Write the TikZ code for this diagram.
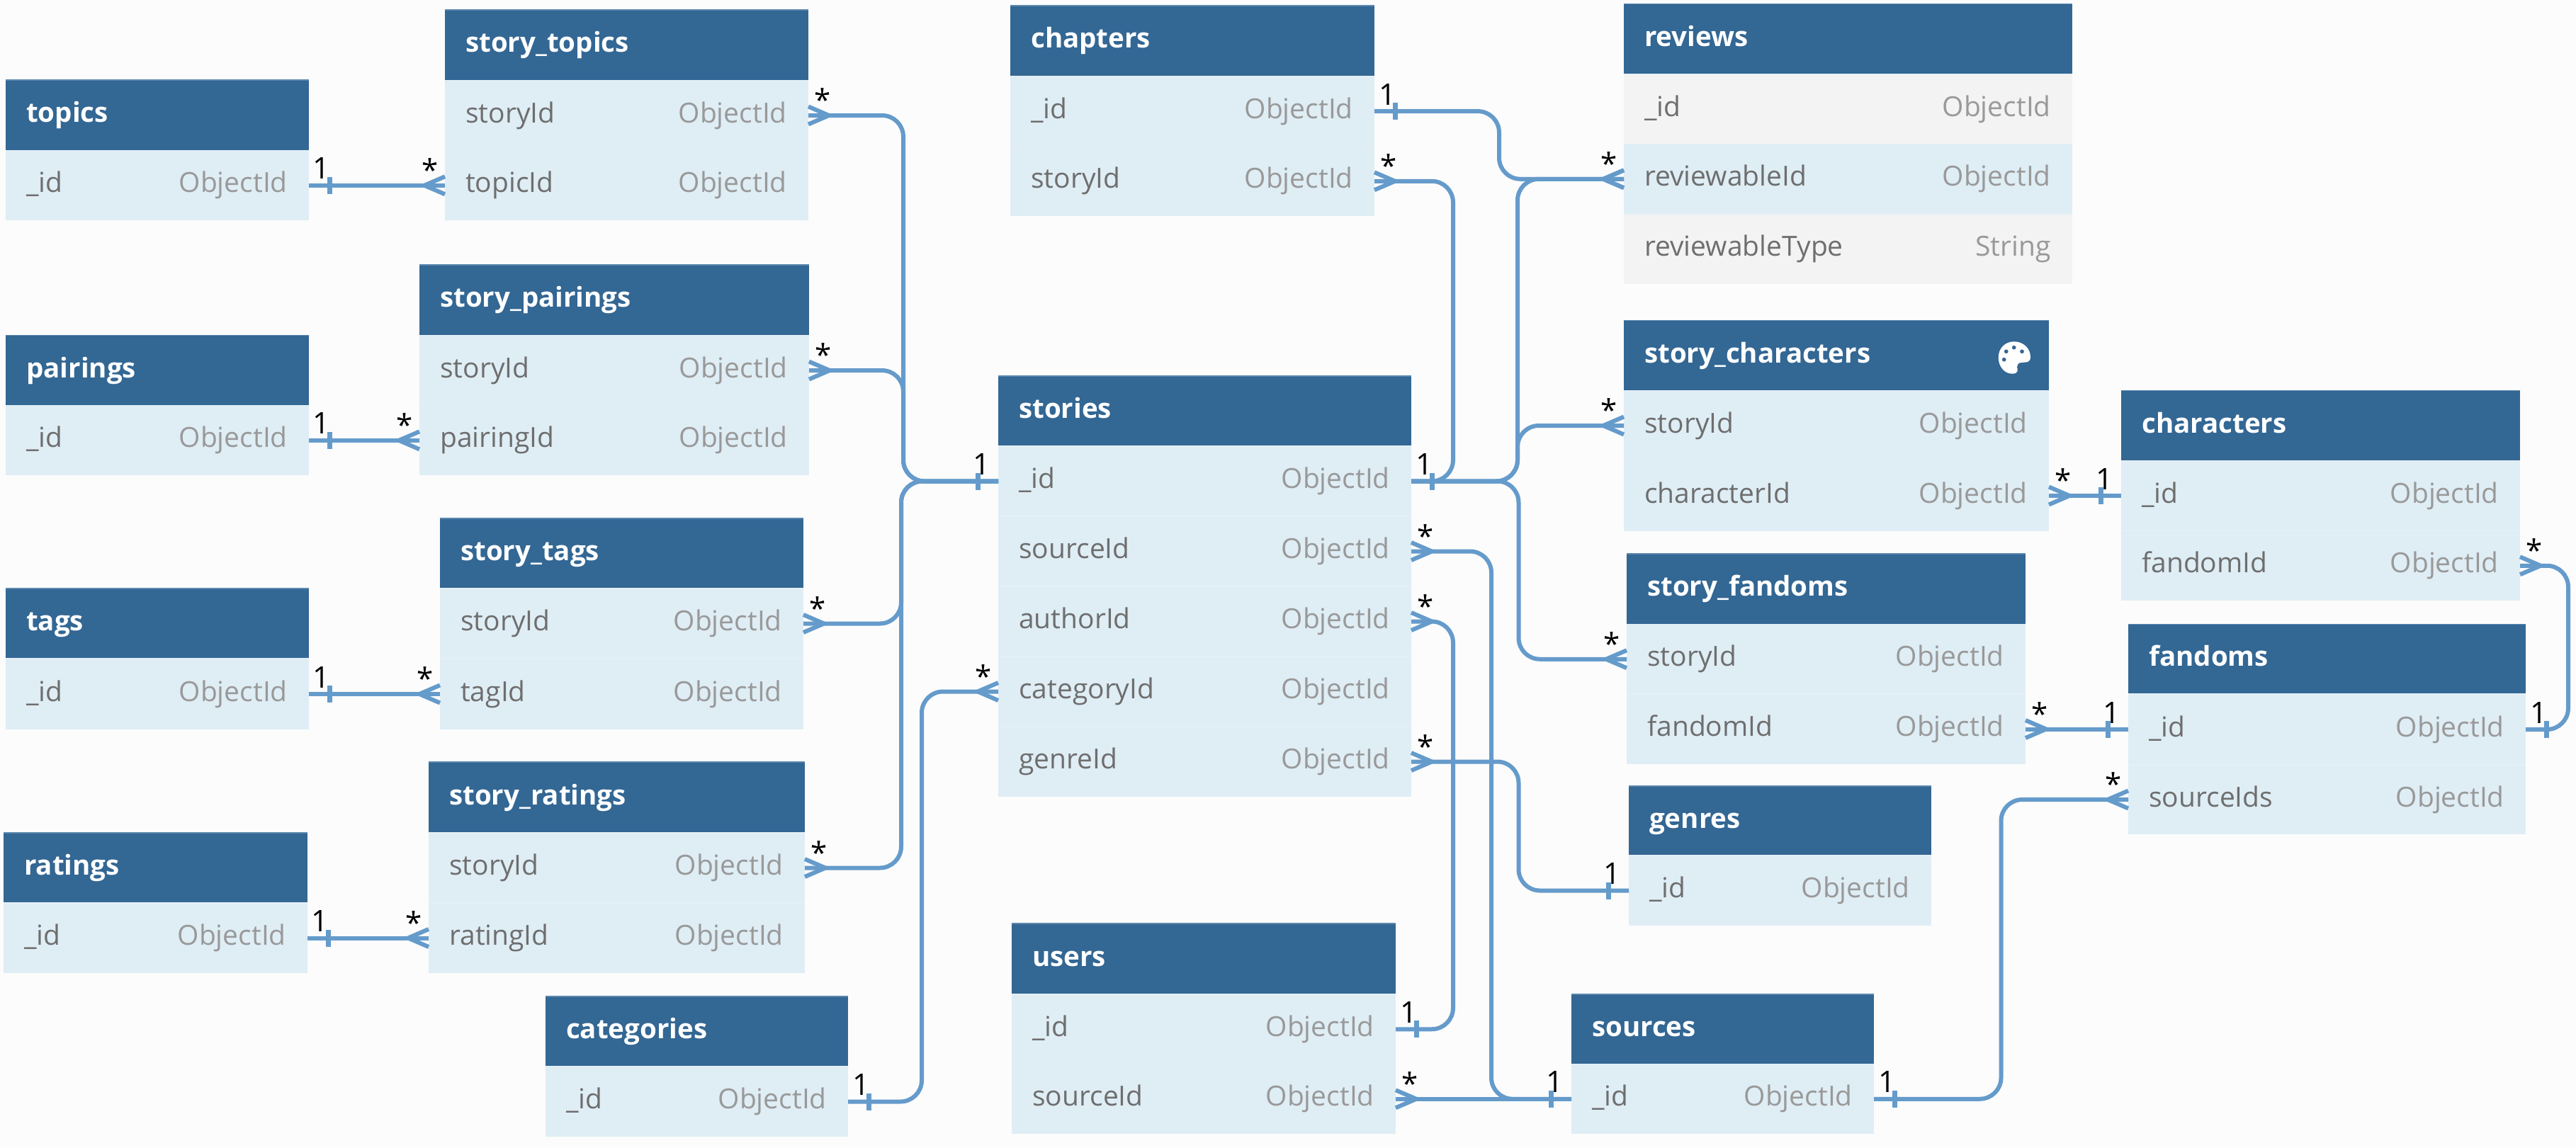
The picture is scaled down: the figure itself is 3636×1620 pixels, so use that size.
\documentclass[tikz,border=0pt]{standalone}
\usepackage{fontspec}
\setmainfont{Open Sans}
\definecolor{pagebg}{HTML}{FCFCFC}
\definecolor{hdrblue}{HTML}{336794}
\definecolor{hdredge}{HTML}{5C88AE}
\definecolor{rowblue}{HTML}{DFEDF5}
\definecolor{rowgray}{HTML}{F3F3F3}
\definecolor{rowedge}{HTML}{E4F0F7}
\definecolor{linkblue}{HTML}{659BCB}
\definecolor{nametext}{HTML}{6E6E6E}
\definecolor{typetext}{HTML}{999999}
\pgfdeclarearrow{name=OneMark,
  setup code={\pgfarrowssettipend{0pt}\pgfarrowssetlineend{0pt}\pgfarrowssetvisualbackend{0pt}},
  drawing code={\pgfsetdash{}{0pt}\pgfsetbuttcap\pgfsetlinewidth{7pt}
    \pgfpathmoveto{\pgfqpoint{-29pt}{12pt}}\pgfpathlineto{\pgfqpoint{-29pt}{-12pt}}\pgfusepathqstroke}}
\pgfdeclarearrow{name=ManyMark,
  setup code={\pgfarrowssettipend{0pt}\pgfarrowssetlineend{0pt}\pgfarrowssetvisualbackend{0pt}},
  drawing code={\pgfsetdash{}{0pt}\pgfsetbuttcap\pgfsetmiterjoin
    \pgfpathmoveto{\pgfqpoint{0pt}{12.5pt}}\pgfpathlineto{\pgfqpoint{-29pt}{0pt}}\pgfpathlineto{\pgfqpoint{0pt}{-12.5pt}}\pgfusepathqstroke}}
\tikzset{
  hdrbox/.style={rectangle,fill=hdrblue,draw=none,inner sep=0pt,outer sep=0pt},
  rowbox/.style={rectangle,fill=rowblue,draw=none,inner sep=0pt,outer sep=0pt},
  graybox/.style={rectangle,fill=rowgray,draw=none,inner sep=0pt,outer sep=0pt},
  titletext/.style={anchor=base west,inner sep=0pt,text=white,font=\fontsize{38.5}{44}\selectfont\bfseries},
  nametxt/.style={anchor=base west,inner sep=0pt,text=nametext,font=\fontsize{39}{44}\selectfont},
  typetxt/.style={anchor=base east,inner sep=0pt,text=typetext,font=\fontsize{39}{44}\selectfont},
  cardtxt/.style={anchor=base,inner sep=0pt,text=black,font=\fontsize{42}{48}\selectfont},
  conn/.style={draw=linkblue,line width=6pt,rounded corners=30pt},
}
% header: id x1 y1 x2 y2 title
\newcommand\hdr[6]{%
  \node[hdrbox,minimum width={#4-#2},minimum height={#5-#3}] (#1) at ({(#2+#4)/2},{(#3+#5)/2}) {};
  \draw[hdredge,line width=1.5pt] (#1.north west) -- (#1.north east);
  \node[titletext] (#1-t) at ([xshift=29pt,yshift=-10pt]#1.west) {#6};}
% row: [style] id x1 y1 x2 y2 name type
\newcommand\rw[8][rowbox]{%
  \node[#1,minimum width={#5-#3},minimum height={#6-#4}] (#2) at ({(#3+#5)/2},{(#4+#6)/2}) {};
  \draw[rowedge,line width=1.5pt] (#2.north west) -- (#2.north east);
  \node[nametxt] (#2-n) at ([xshift=29pt,yshift=-10pt]#2.west) {#7};
  \node[typetxt] (#2-v) at ([xshift=-30pt,yshift=-10pt]#2.east) {#8};}
\newcommand\oneE[2]{\node[cardtxt] (#1) at ([shift={(18pt,9pt)}]#2.east) {1};}
\newcommand\oneW[2]{\node[cardtxt] (#1) at ([shift={(-24pt,9pt)}]#2.west) {1};}
\newcommand\manyE[2]{\node[cardtxt] (#1) at ([shift={(20pt,6.5pt)}]#2.east) {*};}
\newcommand\manyW[2]{\node[cardtxt] (#1) at ([shift={(-21pt,6.5pt)}]#2.west) {*};}
% routed link: tips, from-anchor, bus, to-anchor
\newcommand\route[4]{\draw[conn,#1] (#2) -- (#3 |- #2) -- (#3 |- #4) -- (#4);}
\begin{document}
\begin{tikzpicture}[x=1pt,y=-1pt]
\useasboundingbox (0,0) rectangle (3636,1620);
\fill[pagebg] (0,0) rectangle (3636,1620);

% left column
\hdr{topics}{8}{113}{436}{212.6}{topics}
\rw{topicsId}{8}{212.6}{436}{311}{\_id}{ObjectId}
\hdr{pairings}{8}{473.4}{436}{572.7}{pairings}
\rw{pairingsId}{8}{572.7}{436}{671}{\_id}{ObjectId}
\hdr{tags}{8}{831}{436}{930}{tags}
\rw{tagsId}{8}{930}{436}{1030}{\_id}{ObjectId}
\hdr{ratings}{5}{1176}{434}{1275}{ratings}
\rw{ratingsId}{5}{1275}{434}{1374}{\_id}{ObjectId}

% join tables
\hdr{stopics}{628}{14}{1141}{113.4}{story\_topics}
\rw{stopicsS}{628}{113.4}{1141}{212.6}{storyId}{ObjectId}
\rw{stopicsT}{628}{212.6}{1141}{311}{topicId}{ObjectId}
\hdr{spairings}{592}{374}{1142}{473.4}{story\_pairings}
\rw{spairingsS}{592}{473.4}{1142}{572.7}{storyId}{ObjectId}
\rw{spairingsP}{592}{572.7}{1142}{671}{pairingId}{ObjectId}
\hdr{stags}{621}{732}{1134}{831}{story\_tags}
\rw{stagsS}{621}{831}{1134}{930}{storyId}{ObjectId}
\rw{stagsT}{621}{930}{1134}{1030}{tagId}{ObjectId}
\hdr{sratings}{605}{1076}{1136}{1176}{story\_ratings}
\rw{sratingsS}{605}{1176}{1136}{1275}{storyId}{ObjectId}
\rw{sratingsR}{605}{1275}{1136}{1374}{ratingId}{ObjectId}
\hdr{categories}{770}{1407}{1197}{1506}{categories}
\rw{categoriesId}{770}{1506}{1197}{1605}{\_id}{ObjectId}

% centre
\hdr{stories}{1409}{531}{1992}{630}{stories}
\rw{storiesId}{1409}{630}{1992}{729}{\_id}{ObjectId}
\rw{storiesSrc}{1409}{729}{1992}{828}{sourceId}{ObjectId}
\rw{storiesAut}{1409}{828}{1992}{927}{authorId}{ObjectId}
\rw{storiesCat}{1409}{927}{1992}{1026}{categoryId}{ObjectId}
\rw{storiesGen}{1409}{1026}{1992}{1125}{genreId}{ObjectId}
\hdr{chapters}{1426}{8}{1940}{107.6}{chapters}
\rw{chaptersId}{1426}{107.6}{1940}{206.6}{\_id}{ObjectId}
\rw{chaptersS}{1426}{206.6}{1940}{305}{storyId}{ObjectId}
\hdr{users}{1428}{1304}{1970}{1404}{users}
\rw{usersId}{1428}{1404}{1970}{1502.5}{\_id}{ObjectId}
\rw{usersS}{1428}{1502.5}{1970}{1601}{sourceId}{ObjectId}

% right
\hdr{reviews}{2292}{5.6}{2925}{104.6}{reviews}
\rw[graybox]{reviewsId}{2292}{104.6}{2925}{203.6}{\_id}{ObjectId}
\rw{reviewsR}{2292}{203.6}{2925}{302}{reviewableId}{ObjectId}
\rw[graybox]{reviewsT}{2292}{302}{2925}{401}{reviewableType}{String}
\hdr{schars}{2292}{452.5}{2892}{551.5}{story\_characters}
\rw{scharsS}{2292}{551.5}{2892}{650.5}{storyId}{ObjectId}
\rw{scharsC}{2292}{650.5}{2892}{749.5}{characterId}{ObjectId}
\fill[white,even odd rule]
  (2820.7,505) .. controls (2820.7,491) and (2831,482.3) .. (2842.7,482.3)
  .. controls (2856,482.3) and (2866,492) .. (2866,504.3)
  .. controls (2866,509) and (2863,511.5) .. (2859,511.5) -- (2853,512)
  .. controls (2849,512) and (2847,515) .. (2847,518)
  .. controls (2848,522) and (2849.5,527.7) .. (2840,527.7)
  .. controls (2829,527.7) and (2820.7,517) .. cycle
  (2831.7,496.3) circle (3pt) (2842.7,490.7) circle (3pt)
  (2854,496.3) circle (3pt) (2828.7,507.7) circle (3pt);
\hdr{sfandoms}{2296}{782}{2859}{881.5}{story\_fandoms}
\rw{sfandomsS}{2296}{881.5}{2859}{980}{storyId}{ObjectId}
\rw{sfandomsF}{2296}{980}{2859}{1079}{fandomId}{ObjectId}
\hdr{genres}{2299}{1110}{2726}{1208}{genres}
\rw{genresId}{2299}{1208}{2726}{1307}{\_id}{ObjectId}
\hdr{sources}{2218}{1404}{2645}{1502.5}{sources}
\rw{sourcesId}{2218}{1502.5}{2645}{1601}{\_id}{ObjectId}
\hdr{characters}{2994}{551.5}{3557}{650.5}{characters}
\rw{charactersId}{2994}{650.5}{3557}{749.5}{\_id}{ObjectId}
\rw{charactersF}{2994}{749.5}{3557}{848}{fandomId}{ObjectId}
\hdr{fandoms}{3004}{881.5}{3565}{980}{fandoms}
\rw{fandomsId}{3004}{980}{3565}{1080}{\_id}{ObjectId}
\rw{fandomsS}{3004}{1080}{3565}{1178}{sourceIds}{ObjectId}

% vertical runs of the links
\coordinate (busUpL) at (1275,0);
\coordinate (busDnL) at (1272,0);
\coordinate (busCat) at (1301,0);
\coordinate (busAut) at (2051,0);
\coordinate (busSrc) at (2105,0);
\coordinate (busRev) at (2116,0);
\coordinate (busUpR) at (2142,0);
\coordinate (busDnR) at (2143.5,0);
\coordinate (busSou) at (2824.5,0);
\coordinate (busFan) at (3625,0);

% straight links
\draw[conn,OneMark-ManyMark] (topicsId.east) -- (topicsId.east -| stopicsT.west);
\draw[conn,OneMark-ManyMark] (pairingsId.east) -- (pairingsId.east -| spairingsP.west);
\draw[conn,OneMark-ManyMark] (tagsId.east) -- (tagsId.east -| stagsT.west);
\draw[conn,OneMark-ManyMark] (ratingsId.east) -- (ratingsId.east -| sratingsR.west);
\draw[conn,ManyMark-OneMark] (scharsC.east) -- (scharsC.east -| charactersId.west);
\draw[conn,ManyMark-OneMark] (sfandomsF.east) -- (sfandomsF.east -| fandomsId.west);
\draw[conn,ManyMark-OneMark] (usersS.east) -- (usersS.east -| sourcesId.west);

% routed links
\route{ManyMark-OneMark}{stopicsS.east}{busUpL}{storiesId.west}
\route{ManyMark-OneMark}{spairingsS.east}{busUpL}{storiesId.west}
\route{ManyMark-OneMark}{stagsS.east}{busDnL}{storiesId.west}
\route{ManyMark-OneMark}{sratingsS.east}{busDnL}{storiesId.west}
\route{OneMark-ManyMark}{categoriesId.east}{busCat}{storiesCat.west}
\route{OneMark-ManyMark}{storiesId.east}{busAut}{chaptersS.east}
\route{OneMark-ManyMark}{chaptersId.east}{busRev}{reviewsR.west}
\route{OneMark-ManyMark}{storiesId.east}{busUpR}{reviewsR.west}
\route{OneMark-ManyMark}{storiesId.east}{busUpR}{scharsS.west}
\route{OneMark-ManyMark}{storiesId.east}{busDnR}{sfandomsS.west}
\route{ManyMark-OneMark}{storiesSrc.east}{busSrc}{sourcesId.west}
\route{ManyMark-OneMark}{storiesAut.east}{busAut}{usersId.east}
\route{ManyMark-OneMark}{storiesGen.east}{busDnR}{genresId.west}
\route{ManyMark-OneMark}{charactersF.east}{busFan}{fandomsId.east}
\route{OneMark-ManyMark}{sourcesId.east}{busSou}{fandomsS.west}

% cardinalities
\oneE{c1}{topicsId}\manyW{c2}{stopicsT}
\oneE{c3}{pairingsId}\manyW{c4}{spairingsP}
\oneE{c5}{tagsId}\manyW{c6}{stagsT}
\oneE{c7}{ratingsId}\manyW{c8}{sratingsR}
\manyE{c9}{stopicsS}\manyE{c10}{spairingsS}\manyE{c11}{stagsS}\manyE{c12}{sratingsS}
\oneW{c13}{storiesId}\oneE{c14}{categoriesId}\manyW{c15}{storiesCat}
\oneE{c16}{storiesId}\manyE{c17}{storiesSrc}\manyE{c18}{storiesAut}\manyE{c19}{storiesGen}
\oneE{c20}{chaptersId}\manyE{c21}{chaptersS}
\oneE{c22}{usersId}\manyE{c23}{usersS}
\manyW{c24}{reviewsR}\manyW{c25}{scharsS}\manyW{c26}{sfandomsS}
\manyE{c27}{scharsC}\oneW{c28}{charactersId}
\manyE{c29}{charactersF}\manyE{c30}{sfandomsF}
\oneW{c31}{fandomsId}\oneE{c32}{fandomsId}\manyW{c33}{fandomsS}
\oneW{c34}{genresId}\oneW{c35}{sourcesId}\oneE{c36}{sourcesId}
\end{tikzpicture}
\end{document}
